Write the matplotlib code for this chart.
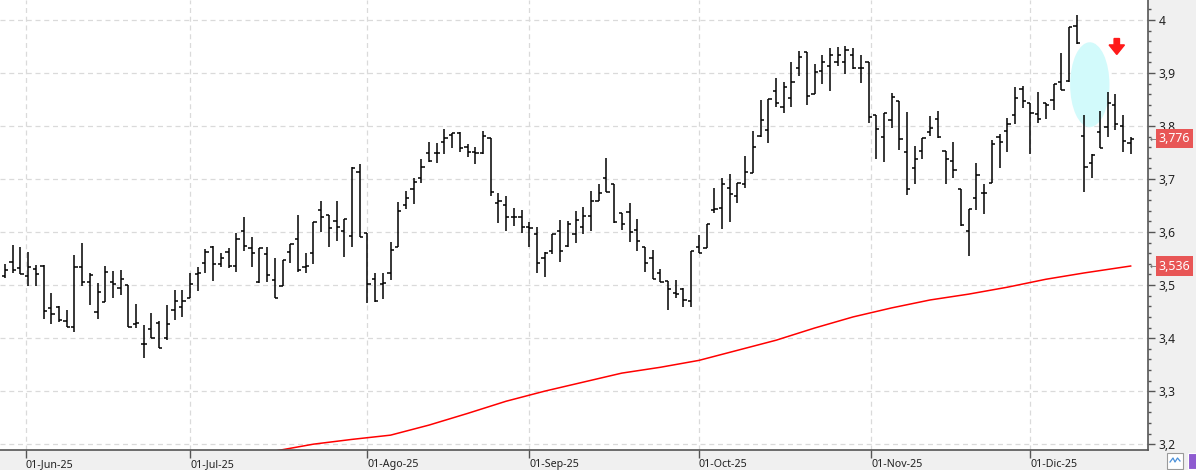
import numpy as np
import pandas as pd
import matplotlib
matplotlib.use("Agg")
import matplotlib.pyplot as plt
from matplotlib.collections import LineCollection
from matplotlib.patches import Ellipse, Rectangle
from matplotlib import transforms

# daily OHLC bars, 28-May-25 .. 18-Dic-25
dates = pd.bdate_range("2025-05-28", periods=147)

opens = [
    3.517, 3.543, 3.532, 3.517, 3.530, 3.536, 3.457, 3.458, 3.432, 3.421,
    3.534, 3.506, 3.449, 3.468, 3.506, 3.494, 3.500, 3.426, 3.389, 3.417,
    3.428, 3.400, 3.453, 3.458, 3.475, 3.521, 3.541, 3.572, 3.539, 3.562,
    3.536, 3.602, 3.570, 3.506, 3.558, 3.509, 3.498, 3.562, 3.587, 3.534,
    3.560, 3.641, 3.632, 3.621, 3.602, 3.592, 3.713, 3.598, 3.511, 3.502,
    3.523, 3.572, 3.651, 3.681, 3.702, 3.749, 3.749, 3.770, 3.783, 3.787,
    3.760, 3.751, 3.749, 3.777, 3.655, 3.651, 3.628, 3.628, 3.609, 3.596,
    3.551, 3.564, 3.602, 3.573, 3.596, 3.609, 3.630, 3.658, 3.702, 3.690,
    3.636, 3.638, 3.604, 3.572, 3.551, 3.523, 3.507, 3.485, 3.492, 3.470,
    3.572, 3.570, 3.641, 3.645, 3.683, 3.668, 3.690, 3.711, 3.781, 3.792,
    3.866, 3.836, 3.853, 3.909, 3.940, 3.860, 3.904, 3.913, 3.921, 3.921,
    3.934, 3.909, 3.921, 3.821, 3.779, 3.811, 3.847, 3.751, 3.721, 3.753,
    3.789, 3.813, 3.753, 3.734, 3.681, 3.602, 3.664, 3.673, 3.692, 3.779,
    3.790, 3.821, 3.870, 3.843, 3.823, 3.843, 3.849, 3.883, 3.885, 3.989,
    3.781, 3.730, 3.789, 3.798, 3.840, 3.800, 3.768,
]
highs = [
    3.539, 3.575, 3.572, 3.562, 3.538, 3.538, 3.485, 3.460, 3.453, 3.556,
    3.579, 3.523, 3.504, 3.536, 3.526, 3.528, 3.500, 3.464, 3.425, 3.447,
    3.432, 3.462, 3.491, 3.491, 3.523, 3.534, 3.568, 3.573, 3.560, 3.570,
    3.598, 3.628, 3.590, 3.570, 3.572, 3.551, 3.547, 3.577, 3.632, 3.560,
    3.619, 3.658, 3.632, 3.658, 3.624, 3.723, 3.728, 3.598, 3.523, 3.523,
    3.581, 3.657, 3.677, 3.702, 3.738, 3.770, 3.768, 3.794, 3.787, 3.789,
    3.766, 3.760, 3.790, 3.777, 3.673, 3.668, 3.645, 3.641, 3.619, 3.609,
    3.562, 3.596, 3.623, 3.621, 3.640, 3.647, 3.677, 3.690, 3.740, 3.690,
    3.636, 3.655, 3.624, 3.572, 3.566, 3.530, 3.507, 3.509, 3.494, 3.564,
    3.594, 3.615, 3.683, 3.702, 3.709, 3.692, 3.743, 3.790, 3.849, 3.851,
    3.891, 3.883, 3.921, 3.941, 3.940, 3.917, 3.934, 3.947, 3.949, 3.951,
    3.947, 3.934, 3.921, 3.821, 3.825, 3.862, 3.847, 3.826, 3.762, 3.777,
    3.819, 3.828, 3.753, 3.770, 3.681, 3.643, 3.730, 3.690, 3.774, 3.785,
    3.815, 3.874, 3.875, 3.843, 3.864, 3.843, 3.879, 3.938, 3.987, 4.009,
    3.821, 3.747, 3.828, 3.864, 3.860, 3.821, 3.779,
]
lows = [
    3.513, 3.523, 3.521, 3.498, 3.498, 3.436, 3.426, 3.430, 3.421, 3.411,
    3.498, 3.462, 3.436, 3.468, 3.475, 3.481, 3.421, 3.419, 3.362, 3.400,
    3.381, 3.396, 3.434, 3.440, 3.475, 3.489, 3.523, 3.507, 3.534, 3.532,
    3.524, 3.564, 3.534, 3.504, 3.506, 3.475, 3.498, 3.541, 3.524, 3.523,
    3.539, 3.600, 3.572, 3.583, 3.553, 3.572, 3.590, 3.466, 3.468, 3.474,
    3.509, 3.572, 3.643, 3.653, 3.692, 3.732, 3.730, 3.747, 3.758, 3.751,
    3.741, 3.728, 3.747, 3.668, 3.617, 3.602, 3.611, 3.598, 3.572, 3.523,
    3.515, 3.558, 3.543, 3.572, 3.579, 3.596, 3.602, 3.658, 3.675, 3.617,
    3.604, 3.581, 3.564, 3.524, 3.511, 3.506, 3.453, 3.475, 3.458, 3.458,
    3.560, 3.570, 3.636, 3.606, 3.619, 3.655, 3.683, 3.711, 3.779, 3.768,
    3.836, 3.825, 3.836, 3.894, 3.840, 3.860, 3.879, 3.866, 3.913, 3.898,
    3.908, 3.881, 3.806, 3.738, 3.732, 3.796, 3.755, 3.670, 3.690, 3.738,
    3.781, 3.777, 3.690, 3.702, 3.611, 3.555, 3.641, 3.634, 3.692, 3.721,
    3.751, 3.804, 3.834, 3.747, 3.806, 3.813, 3.830, 3.868, 3.883, 3.955,
    3.675, 3.702, 3.758, 3.779, 3.792, 3.751, 3.747,
]
closes = [
    3.528, 3.528, 3.521, 3.534, 3.521, 3.451, 3.445, 3.434, 3.421, 3.534,
    3.506, 3.519, 3.487, 3.524, 3.502, 3.511, 3.421, 3.428, 3.389, 3.400,
    3.381, 3.426, 3.470, 3.470, 3.502, 3.523, 3.562, 3.539, 3.551, 3.536,
    3.587, 3.573, 3.560, 3.570, 3.519, 3.475, 3.547, 3.577, 3.528, 3.536,
    3.619, 3.628, 3.607, 3.609, 3.624, 3.721, 3.590, 3.502, 3.470, 3.504,
    3.566, 3.640, 3.664, 3.694, 3.723, 3.734, 3.749, 3.777, 3.787, 3.758,
    3.751, 3.749, 3.781, 3.675, 3.658, 3.628, 3.628, 3.609, 3.607, 3.541,
    3.560, 3.596, 3.564, 3.615, 3.623, 3.630, 3.658, 3.673, 3.675, 3.619,
    3.615, 3.600, 3.583, 3.541, 3.511, 3.506, 3.492, 3.483, 3.472, 3.564,
    3.560, 3.615, 3.643, 3.690, 3.672, 3.692, 3.713, 3.760, 3.811, 3.851,
    3.843, 3.874, 3.883, 3.930, 3.857, 3.902, 3.921, 3.934, 3.934, 3.943,
    3.909, 3.909, 3.817, 3.794, 3.825, 3.855, 3.775, 3.681, 3.738, 3.777,
    3.796, 3.779, 3.738, 3.717, 3.613, 3.643, 3.708, 3.673, 3.766, 3.770,
    3.804, 3.853, 3.847, 3.825, 3.813, 3.840, 3.879, 3.868, 3.987, 3.956,
    3.723, 3.745, 3.758, 3.843, 3.804, 3.772, 3.776,
]

# long moving average (red), read at a few bar positions
ma_index = [30, 35, 40, 45, 50, 55, 60, 65, 70, 75, 80, 85, 90, 95, 100,
            105, 110, 115, 120, 125, 130, 135, 140, 146]
ma_values = [3.177, 3.187, 3.200, 3.209, 3.217, 3.236, 3.258, 3.281, 3.300,
             3.317, 3.334, 3.345, 3.358, 3.377, 3.396, 3.419, 3.440, 3.457,
             3.472, 3.483, 3.496, 3.511, 3.523, 3.536]

month_starts = ["2025-06-01", "2025-07-01", "2025-08-01", "2025-09-01",
                "2025-10-01", "2025-11-01", "2025-12-01"]
month_labels = ["01-Jun-25", "01-Jul-25", "01-Ago-25", "01-Sep-25",
                "01-Oct-25", "01-Nov-25", "01-Dic-25"]

last_close_label = "3,776"
last_ma_label = "3,536"

GRID = "#dadada"
AXIS = "#555555"
PANEL = "#f0f0f0"
TAG = "#e85656"

plt.rcParams["font.family"] = ["Noto Sans", "DejaVu Sans"]

W, H = 1196, 470
fig = plt.figure(figsize=(W / 100, H / 100), dpi=100, facecolor=PANEL)
ax = fig.add_axes([0, 20 / H, 1148 / W, 450 / H])
ax.set_facecolor("white")

n = len(dates)
idx = np.arange(n)
ax.set_xlim(-0.65, 148.25)
ax.set_ylim(3.189, 4.0377)

# bars: high-low stem, open tick left, close tick right
segs = []
for i in idx:
    segs.append([(i, lows[i]), (i, highs[i])])
    segs.append([(i - 0.42, opens[i]), (i, opens[i])])
    segs.append([(i, closes[i]), (i + 0.42, closes[i])])
ax.add_collection(LineCollection(segs, colors="black", linewidths=1.1,
                                 zorder=3, capstyle="butt"))

ax.plot(ma_index, ma_values, color="#ff0000", lw=1.1, zorder=2,
        solid_joinstyle="round")

# highlight ellipse and red down arrow
ax.add_patch(Ellipse((140.7, 3.878), 5.1, 0.160, facecolor="#d2fafb",
                     edgecolor="none", zorder=1))
ax.arrow(144.2, 3.965, 0, -0.030, width=0.7, head_width=2.0,
         head_length=0.018, length_includes_head=True, color="#ff1a1a",
         zorder=4)

# month ticks placed on a calendar scale between trading days
ords = np.array([d.toordinal() for d in dates])
tick_pos = [np.interp(pd.Timestamp(m).toordinal(), ords, idx) for m in month_starts]
ax.set_xticks(tick_pos)
ax.set_xticklabels(month_labels, ha="left", fontsize=7.7, color="#222222")
shift = transforms.ScaledTranslation(2 / 100, 0, fig.dpi_scale_trans)
for lab in ax.get_xticklabels():
    lab.set_transform(lab.get_transform() + shift)

yt = np.arange(3.2, 4.01, 0.1)
ax.set_yticks(yt)
ax.set_yticks(np.arange(3.20, 4.03, 0.02), minor=True)
ax.set_yticklabels([f"{v:.1f}".replace(".", ",").replace(",0", "") for v in yt],
                   fontsize=8.7, color="#222222")
ax.yaxis.tick_right()
ax.tick_params(axis="y", which="major", length=5, width=1, color=AXIS, pad=2.5)
ax.tick_params(axis="y", which="minor", length=2.5, width=1, color=AXIS)
ax.tick_params(axis="x", length=6, width=1, color=AXIS, pad=0.5)

ax.grid(True, which="major", color=GRID, lw=0.9, ls=(0, (4, 3)))
ax.set_axisbelow(True)
for side in ("left", "top"):
    ax.spines[side].set_visible(False)
for side in ("right", "bottom"):
    ax.spines[side].set_color(AXIS)
    ax.spines[side].set_linewidth(1.2)

# last-value tags on the price axis
tag_tr = transforms.blended_transform_factory(fig.transFigure, ax.transData)
for val, txt in ((closes[-1], last_close_label), (ma_values[-1], last_ma_label)):
    ax.text(1174.5 / W, val, txt, transform=tag_tr, ha="center", va="center",
            fontsize=8.9, color="white", clip_on=False, zorder=6,
            bbox=dict(boxstyle="square,pad=0.25", facecolor=TAG, edgecolor="none"))
    ax.text(1153 / W, val, "←", transform=tag_tr, ha="center", va="center",
            fontsize=6, color="#666666", family=["DejaVu Sans"], clip_on=False)

# small toolbar icons in the bottom-right corner
fig.add_artist(Rectangle((1167 / W, 1 / H), 16 / W, 16 / H, transform=fig.transFigure,
                         facecolor="white", edgecolor="#9a9a9a", lw=0.8))
fig.add_artist(plt.Line2D([1170 / W, 1173 / W, 1175 / W, 1177.5 / W, 1180 / W],
                          [8 / H, 12 / H, 8 / H, 12 / H, 9 / H],
                          transform=fig.transFigure, color="#4a90d9", lw=0.9))
fig.add_artist(Rectangle((1188 / W, 1 / H), 10 / W, 16 / H, transform=fig.transFigure,
                         facecolor="#8e5bd0", edgecolor="white", lw=0.8))

fig.savefig("out.png", dpi=100, facecolor=PANEL)
